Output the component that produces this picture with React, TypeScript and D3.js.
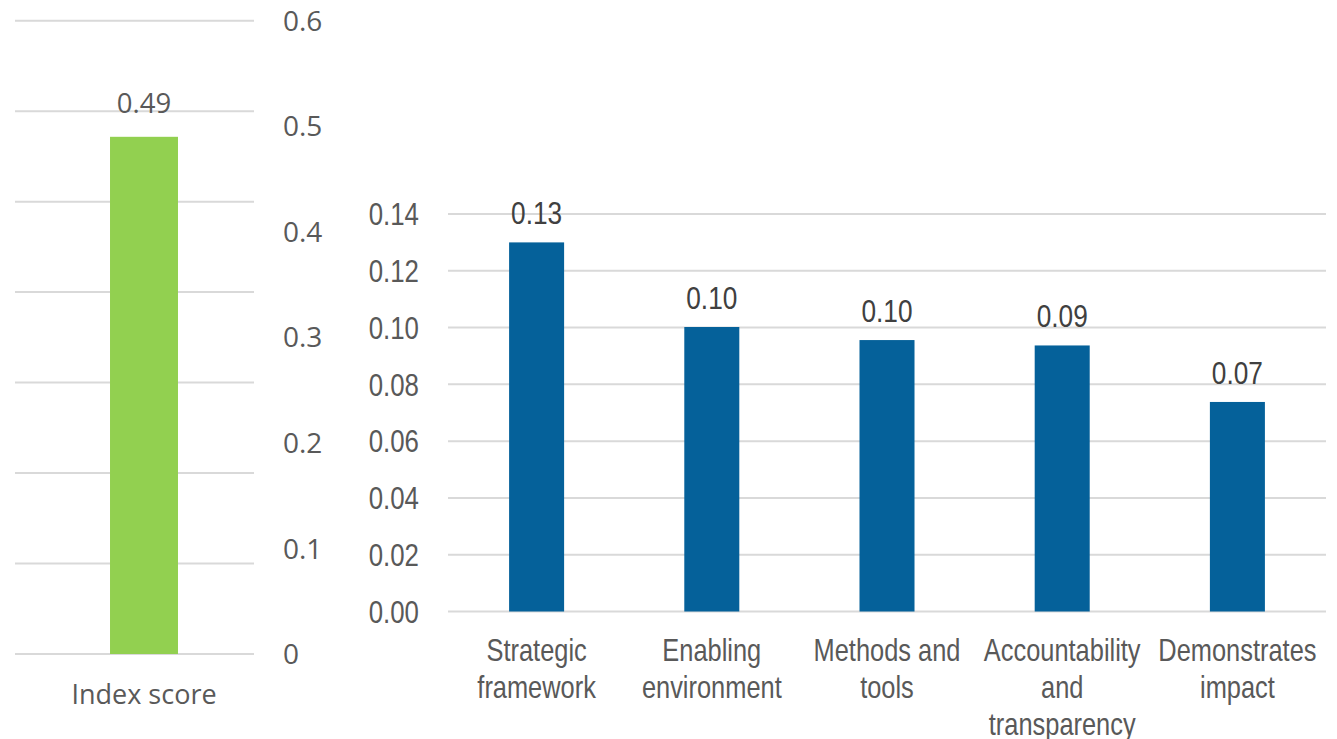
import React from "react";
import * as d3 from "d3";

const indexCategories = ["Index score"];
const indexValues = [0.49];
const indexTickValues = [0, 0.1, 0.2, 0.3, 0.4, 0.5, 0.6];
const indexGridIntervals = 7;

const categories = [
  "Strategic framework",
  "Enabling environment",
  "Methods and tools",
  "Accountability and transparency",
  "Demonstrates impact",
];
const categoryLines = [
  ["Strategic", "framework"],
  ["Enabling", "environment"],
  ["Methods and", "tools"],
  ["Accountability", "and", "transparency"],
  ["Demonstrates", "impact"],
];
const values = [0.13, 0.1002, 0.0956, 0.0937, 0.0738];
const tickValues = [0, 0.02, 0.04, 0.06, 0.08, 0.1, 0.12, 0.14];

const GREEN = "#92D050";
const BLUE = "#05619A";
const GRID = "#D9D9D9";
const NARROW = "'Liberation Sans', Arial, sans-serif";
const LEFTFONT = "'Open Sans', 'Noto Sans', sans-serif";
const SQUEEZE = 0.82;

function NText(props: {
  x: number;
  y: number;
  anchor?: string;
  size?: number;
  fill?: string;
  lines: string[];
  lineHeight?: number;
  dy?: string;
}) {
  const { x, y, anchor = "middle", size = 31, fill = "#595959", lines, lineHeight = 37, dy } = props;
  return (
    <text
      transform={`translate(${x},${y}) scale(${SQUEEZE},1)`}
      textAnchor={anchor}
      fontFamily={NARROW}
      fontSize={size}
      fill={fill}
    >
      {lines.map((ln, j) => (
        <tspan key={j} x={0} y={j * lineHeight} dy={dy}>
          {ln}
        </tspan>
      ))}
    </text>
  );
}

export default function App() {
  // left chart
  const ly = d3.scaleLinear().domain([0, 0.6]).range([654, 20.7]);
  const lx = d3.scaleBand<string>().domain(indexCategories).range([34, 254]).padding(0.528);
  const gridVals = d3.range(indexGridIntervals + 1).map((i) => (i * 0.6) / indexGridIntervals);

  // right chart
  const ry = d3.scaleLinear().domain([0, 0.14]).range([611.5, 214]);
  const rx = d3.scaleBand<string>().domain(categories).range([449, 1325]).paddingInner(0.686).paddingOuter(0.343);

  return (
    <svg
      width={1337}
      height={739}
      style={{ position: "absolute", left: 0, top: 0, display: "block", background: "#fff" }}
    >
      {/* Left chart */}
      <g>
        {gridVals.map((v, i) => (
          <line key={i} x1={15} x2={254} y1={ly(v)} y2={ly(v)} stroke={GRID} strokeWidth={2} />
        ))}
        {indexCategories.map((c, i) => (
          <g key={c}>
            <rect
              x={lx(c)!}
              width={lx.bandwidth()}
              y={ly(indexValues[i])}
              height={ly(0) - ly(indexValues[i])}
              fill={GREEN}
            />
            <text
              x={lx(c)! + lx.bandwidth() / 2}
              y={ly(indexValues[i]) - 24}
              textAnchor="middle"
              fontFamily={LEFTFONT}
              fontSize={27.5}
              fill="#595959"
            >
              {indexValues[i].toFixed(2)}
            </text>
            <text
              x={lx(c)! + lx.bandwidth() / 2}
              y={704}
              textAnchor="middle"
              fontFamily={LEFTFONT}
              fontSize={27}
              fill="#595959"
            >
              {c}
            </text>
          </g>
        ))}
        {indexTickValues.map((v) => (
          <text
            key={v}
            x={283}
            y={ly(v)}
            dy="0.36em"
            fontFamily={LEFTFONT}
            fontSize={28}
            fill="#595959"
          >
            {d3.format("")(v)}
          </text>
        ))}
      </g>

      {/* Right chart */}
      <g>
        {tickValues.map((v) => (
          <g key={v}>
            <line x1={448} x2={1326} y1={ry(v)} y2={ry(v)} stroke={GRID} strokeWidth={2} />
            <NText x={419} y={ry(v)} anchor="end" dy="0.36em" size={31.5} lines={[v.toFixed(2)]} />
          </g>
        ))}
        {categories.map((c, i) => {
          const x = rx(c)!;
          const cx = x + rx.bandwidth() / 2;
          return (
            <g key={c}>
              <rect x={x} width={rx.bandwidth()} y={ry(values[i])} height={ry(0) - ry(values[i])} fill={BLUE} />
              <NText x={cx} y={ry(values[i]) - 18} size={32} fill="#404040" lines={[values[i].toFixed(2)]} />
              <NText x={cx} y={661} size={31} lines={categoryLines[i]} lineHeight={37} />
            </g>
          );
        })}
      </g>
    </svg>
  );
}
